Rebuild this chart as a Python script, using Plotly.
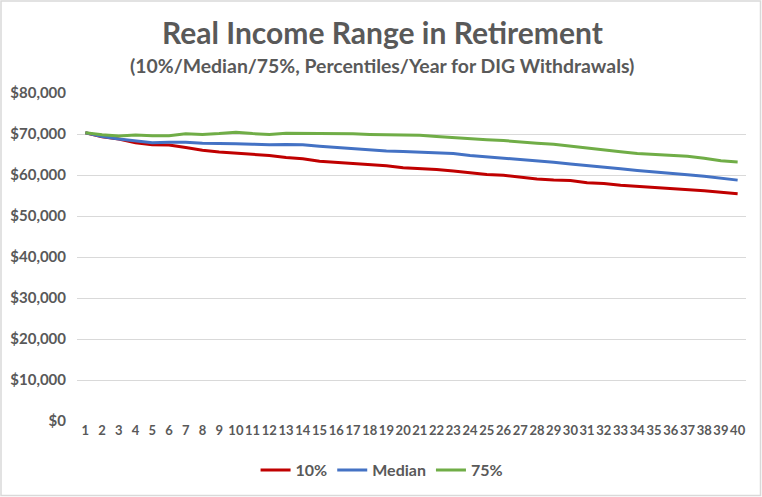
import plotly.graph_objects as go

# Year of retirement (category axis 1..40)
years = list(range(1, 41))

# Real income per percentile
p10 = [70300, 69300, 68800, 67850, 67350, 67300, 66700, 66050, 65600, 65300,
       65100, 64750, 64250, 63950, 63350, 63050, 62700, 62400, 62250, 61750,
       61600, 61350, 60950, 60450, 60100, 59950, 59450, 59050, 58800, 58650,
       58100, 57950, 57500, 57250, 57000, 56800, 56450, 56150, 55800, 55400]

median = [70300, 69400, 68800, 68400, 67850, 68000, 68000, 67750, 67750, 67600,
          67500, 67350, 67450, 67350, 67000, 66700, 66400, 66050, 65850, 65750,
          65600, 65450, 65250, 64750, 64450, 64000, 63750, 63450, 63100, 62700,
          62250, 61900, 61500, 61100, 60700, 60350, 60050, 59700, 59300, 58750]

p75 = [70300, 69800, 69500, 69750, 69600, 69600, 70050, 69900, 70100, 70400,
       70100, 69900, 70200, 70200, 70100, 70050, 70050, 69900, 69800, 69800,
       69700, 69400, 69100, 68900, 68600, 68400, 68000, 67750, 67500, 67000,
       66550, 66050, 65650, 65250, 65050, 64900, 64600, 64100, 63450, 63200]

y_ticks = [0, 10000, 20000, 30000, 40000, 50000, 60000, 70000, 80000]
y_labels = ["$0", "$10,000", "$20,000", "$30,000", "$40,000",
            "$50,000", "$60,000", "$70,000", "$80,000"]

GRAY = "#595959"
FONT = "Lato"
NARROW = "Liberation Sans Narrow, Lato"

fig = go.Figure()
for vals, name, color in [
    (p10, "10%", "#C00000"),
    (median, "Median", "#4472C4"),
    (p75, "75%", "#70AD47"),
]:
    fig.add_trace(go.Scatter(
        x=years, y=vals, name=name, mode="lines",
        line=dict(color=color, width=3),
    ))

fig.update_xaxes(
    type="linear", range=[0.5, 40.5], tickmode="array", tickvals=years,
    ticktext=[str(y) for y in years], showgrid=False, zeroline=False,
    showline=False, ticks="", tickangle=0, automargin=False,
    tickfont=dict(family=NARROW, size=13, color=GRAY, weight="bold"),
)
fig.update_yaxes(
    range=[0, 80000], tickmode="array", tickvals=y_ticks, ticktext=y_labels,
    showgrid=True, gridcolor="#D9D9D9", gridwidth=1, zeroline=False,
    showline=False, ticks="", ticklabelstandoff=10, automargin=False,
    tickfont=dict(family=FONT, size=15, color=GRAY, weight="bold"),
)

fig.add_annotation(
    text="Real Income Range in Retirement", xref="paper", yref="paper",
    x=0.456, y=1.186, showarrow=False, xanchor="center", yanchor="middle",
    font=dict(family=FONT, size=30, color=GRAY, weight="bold"),
)
fig.add_annotation(
    text="(10%/Median/75%, Percentiles/Year for DIG Withdrawals)",
    xref="paper", yref="paper", x=0.456, y=1.085, showarrow=False,
    xanchor="center", yanchor="middle",
    font=dict(family=FONT, size=19.4, color=GRAY, weight="bold"),
)

# outer chart border
fig.add_shape(
    type="rect", xref="paper", yref="paper",
    x0=-0.1136, x1=1.0217, y0=-0.227, y1=1.2805,
    line=dict(color="#D9D9D9", width=1.5),
)

fig.update_layout(
    width=762, height=497,
    margin=dict(l=77, r=16, t=93, b=76, autoexpand=False),
    paper_bgcolor="white", plot_bgcolor="white",
    showlegend=True,
    legend=dict(
        orientation="h", x=0.456, xanchor="center", y=-0.15, yanchor="middle",
        font=dict(family=FONT, size=16, color=GRAY, weight="bold"),
        itemwidth=30, tracegroupgap=0,
    ),
)

# drop the browser's default page margin so the chart sits at 0,0
fig.write_html("out.html", config={"displayModeBar": False},
               post_script="document.body.style.margin='0';")
